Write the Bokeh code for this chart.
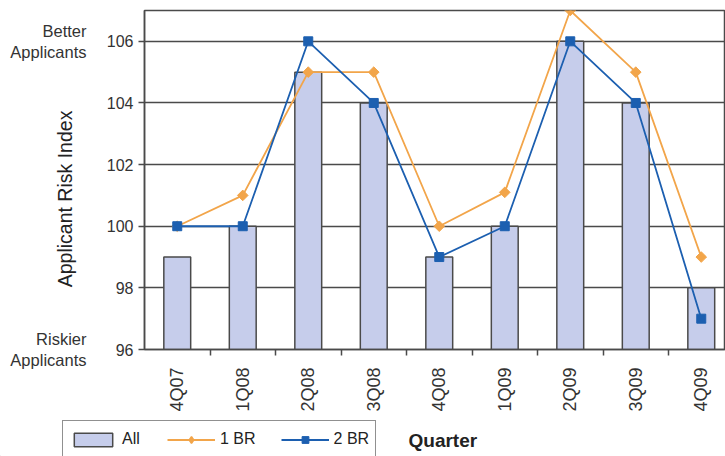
import math
from bokeh.plotting import figure
from bokeh.layouts import column
from bokeh.models import (Range1d, FixedTicker, Legend, LegendItem, Label,
                          LinearAxis, ColumnDataSource)
from bokeh.embed import file_html
from bokeh.resources import INLINE

# ---- data ----
quarters = ["4Q07", "1Q08", "2Q08", "3Q08", "4Q08", "1Q09", "2Q09", "3Q09", "4Q09"]
all_values = [99, 100, 105, 104, 99, 100, 106, 104, 98]
br1_values = [100, 101, 105, 105, 100, 101.1, 107, 105, 99]
br2_values = [100, 100, 106, 104, 99, 100, 106, 104, 97]
y_ticks = [96, 98, 100, 102, 104, 106]
side_labels = {106: "Better\nApplicants", 96: "Riskier\nApplicants"}

FONT = "Liberation Sans"
BAR_FILL = "#c6cdeb"
DARK = "#4a4a4a"
ORANGE = "#f2a54a"
BLUE = "#1c5fb0"
NBSP = "\u00a0"

xpos = list(range(len(quarters)))
src = ColumnDataSource(dict(x=xpos, all=all_values, br1=br1_values, br2=br2_values))

p = figure(width=725, height=420, output_backend="svg", toolbar_location=None,
           x_range=Range1d(-0.5, 8.37), y_range=Range1d(96, 107),
           min_border_left=144, min_border_right=0, min_border_top=10,
           min_border_bottom=71)
p.frame_align = False

p.outline_line_color = DARK
p.outline_line_width = 1.5

# grid
p.xgrid.visible = False
p.ygrid.ticker = FixedTicker(ticks=y_ticks)
p.ygrid.grid_line_color = DARK
p.ygrid.grid_line_width = 1.5

# bars
bars = p.vbar(x="x", top="all", bottom=96, width=0.41, source=src,
              fill_color=BAR_FILL, line_color=DARK, line_width=1.5)

# lines
p.line(x="x", y="br1", source=src, line_color=ORANGE, line_width=1.8)
p.scatter(x="x", y="br1", source=src, marker="square", angle=math.pi / 4,
          size=7.5, fill_color=ORANGE, line_color=ORANGE)
p.line(x="x", y="br2", source=src, line_color=BLUE, line_width=1.8)
p.scatter(x="x", y="br2", source=src, marker="square", size=9,
          fill_color=BLUE, line_color=BLUE)

# y axis (numbers)
yax = p.yaxis[0]
yax.ticker = FixedTicker(ticks=y_ticks, minor_ticks=[])
yax.axis_line_color = DARK
yax.axis_line_width = 1.5
yax.major_tick_line_color = DARK
yax.major_tick_line_width = 1.5
yax.major_tick_out = 6
yax.major_tick_in = 0
yax.minor_tick_line_color = None
yax.major_label_text_font = FONT
yax.major_label_text_font_size = "16px"
yax.major_label_text_color = "#333333"
yax.major_label_standoff = 5
yax.axis_label = "Applicant Risk Index" + NBSP * 7
yax.axis_label_text_font = FONT
yax.axis_label_text_font_size = "19.5px"
yax.axis_label_text_font_style = "normal"
yax.axis_label_text_color = "#222222"
yax.axis_label_standoff = 28

# second y axis: "Better / Riskier Applicants"
yax2 = LinearAxis(ticker=FixedTicker(ticks=list(side_labels.keys()), minor_ticks=[]),
                  major_label_overrides=side_labels,
                  axis_line_color=None, major_tick_line_color=None,
                  minor_tick_line_color=None, major_tick_out=0, major_tick_in=0,
                  major_label_standoff=-36, major_label_text_font=FONT,
                  major_label_text_font_size="16.5px",
                  major_label_text_color="#333333")
p.add_layout(yax2, "left")

# x axis
xax = p.xaxis[0]
xax.ticker = FixedTicker(ticks=xpos, minor_ticks=[i + 0.5 for i in xpos[:-1]])
xax.major_label_overrides = {i: q for i, q in zip(xpos, quarters)}
xax.major_label_orientation = math.pi / 2
xax.axis_line_color = DARK
xax.axis_line_width = 1.5
xax.major_tick_out = 0
xax.major_tick_in = 0
xax.major_tick_line_color = None
xax.minor_tick_out = 6
xax.minor_tick_in = 0
xax.minor_tick_line_color = DARK
xax.minor_tick_line_width = 1.5
xax.major_label_text_font = FONT
xax.major_label_text_font_size = "18px"
xax.major_label_text_color = "#333333"
xax.major_label_standoff = 12

# ---- bottom strip: legend + axis title ----
p2 = figure(width=725, height=36, output_backend="svg", toolbar_location=None,
            x_range=Range1d(0, 725), y_range=Range1d(0, 36),
            min_border=0, x_axis_type=None, y_axis_type=None)
p2.frame_align = False
p2.outline_line_color = None
p2.xgrid.visible = False
p2.ygrid.visible = False

# off-screen sample glyphs used only for the legend swatches
swatch = ColumnDataSource(dict(x=[-100], y=[-100]))
lb = p2.vbar(x="x", top="y", width=1, source=swatch,
             fill_color=BAR_FILL, line_color=DARK, line_width=1.5)
ll1 = p2.line(x="x", y="y", source=swatch, line_color=ORANGE, line_width=1.8)
lm1 = p2.scatter(x="x", y="y", source=swatch, marker="diamond",
                 size=10, fill_color=ORANGE, line_color=ORANGE, line_width=1.5)
ll2 = p2.line(x="x", y="y", source=swatch, line_color=BLUE, line_width=1.8)
lm2 = p2.scatter(x="x", y="y", source=swatch, marker="square", size=9,
                 fill_color=BLUE, line_color=BLUE)

legend = Legend(items=[LegendItem(label="All", renderers=[lb]),
                       LegendItem(label="1 BR", renderers=[ll1, lm1]),
                       LegendItem(label="2 BR", renderers=[ll2, lm2])],
                orientation="horizontal", location=(62, -2),
                glyph_width=48, glyph_height=17, label_height=24,
                label_standoff=5, spacing=25,
                padding=6, margin=0, border_line_color="#222222",
                border_line_width=1.2, label_text_font=FONT,
                label_text_font_size="16px", label_text_color="#222222",
                background_fill_color="white", background_fill_alpha=1)
p2.add_layout(legend, "center")

p2.add_layout(Label(x=408, y=16, text="Quarter", text_align="left",
                    text_baseline="middle", text_font=FONT,
                    text_font_size="19px", text_font_style="bold",
                    text_color="#222222"))

layout = column(p, p2, spacing=0)
open("out.html", "w").write(file_html(layout, INLINE))
